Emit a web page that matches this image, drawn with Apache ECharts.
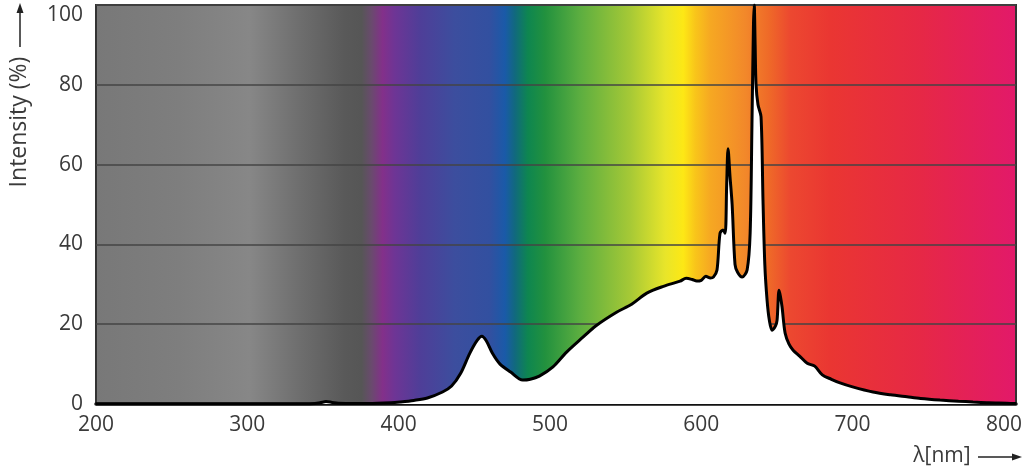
<!DOCTYPE html>
<html>
<head>
<meta charset="utf-8">
<title>Spectrum</title>
<style>
    html, body { margin: 0; padding: 0; background: #fff; }
    #spectrum-chart { width: 1024px; height: 469px; }
</style>
</head>
<body>
<div id="spectrum-chart"></div>
<script src="https://cdn.jsdelivr.net/npm/echarts@6/dist/echarts.min.js"></script>
<script>
    // wavelengths (nm) and relative intensity (%)
    var wavelengths = [200, 300, 340, 348, 352, 356, 360, 370, 380, 395, 401, 410, 419, 429, 435, 441, 447, 452, 455, 458, 462, 467, 474, 482, 487, 493, 502, 511, 522, 530, 544, 554, 564, 575, 586, 590, 594, 597, 600, 603, 606, 608, 610.4, 612.4, 614.4, 615.8, 616.8, 617.7, 619, 620.4, 622.3, 624, 627, 630.3, 632.3, 633.5, 634.5, 635, 635.6, 636.2, 637.5, 639.5, 640.8, 642, 643.5, 645, 646.8, 649, 650.1, 651.4, 652.3, 653.4, 655.4, 658, 660.7, 665, 670, 675, 680, 686, 691.7, 700, 713.5, 725, 736, 745, 757.8, 770, 779.6, 790, 802, 808];
    var intensity = [0, 0, 0, 0.3, 0.6, 0.4, 0.2, 0.1, 0.1, 0.3, 0.5, 0.9, 1.5, 3, 4.5, 7.7, 12.7, 16, 17, 15.8, 12.7, 10, 8, 6, 6.2, 7, 9.3, 13, 16.8, 19.5, 23, 25, 27.8, 29.5, 30.8, 31.5, 31.2, 30.8, 31, 32, 31.6, 31.8, 33.6, 42.8, 43.6, 42.8, 55, 64, 57, 50, 35, 33, 31.8, 33.6, 42.8, 70, 95, 100, 90, 80, 75, 72, 51, 35, 26, 21, 18.5, 19.5, 21, 28.5, 27, 24.3, 17.8, 15, 13.5, 12, 10.2, 9.5, 7.3, 6.2, 5.3, 4.3, 3, 2.3, 1.8, 1.4, 1, 0.7, 0.5, 0.3, 0.2, 0.1];
    var yTicks = [0, 20, 40, 60, 80, 100];
    var xTicks = [200, 300, 400, 500, 600, 700, 800];

    var X_MIN = 200, X_MAX = 808;
    var GRID_L = 96, GRID_R = 1016;

    // background colour bands, given as pixel x across the plot
    var bands = [
        [96, '#787878'], [180, '#7e7e7e'], [250, '#878787'], [300, '#6e6e6e'],
        [345, '#595959'], [362, '#565656'], [372, '#6a4a6e'], [383, '#83308a'],
        [395, '#6e3595'], [420, '#4f3e98'], [455, '#3c4e9e'], [490, '#3250a0'],
        [505, '#1a5aa8'], [515, '#11697e'], [528, '#0e8650'], [545, '#22913e'],
        [580, '#5cae40'], [630, '#a6c936'], [665, '#e8e52a'], [683, '#fde815'],
        [695, '#f9c51a'], [710, '#f6a822'], [745, '#f2882a'], [768, '#ef6a28'],
        [790, '#ec4830'], [830, '#ea3632'], [920, '#e62846'], [1016, '#e2196a']
    ];
    var stops = bands.map(function (b) {
        return {offset: (b[0] - GRID_L) / (GRID_R - GRID_L), color: b[1]};
    });

    var points = wavelengths.map(function (w, i) { return [w, intensity[i]]; });
    var font = '"Open Sans", "DejaVu Sans", sans-serif';

    var myChart = echarts.init(document.getElementById('spectrum-chart'));
    var option = {
        animation: false,
        grid: {
            left: GRID_L, right: 1024 - GRID_R, top: 5, bottom: 65,
            outerBoundsMode: 'none',
            containLabel: false,
            show: true,
            borderColor: '#333',
            borderWidth: 2,
            backgroundColor: new echarts.graphic.LinearGradient(0, 0, 1, 0, stops)
        },
        xAxis: {
            type: 'value',
            min: X_MIN, max: X_MAX, interval: 100,
            axisLine: {show: true, lineStyle: {color: '#111', width: 3.5}},
            axisTick: {show: false},
            splitLine: {show: false},
            axisLabel: {
                color: '#3a3a3a', fontSize: 21, fontFamily: font, margin: 11,
                showMaxLabel: false,
                formatter: function (v) { return xTicks.indexOf(v) >= 0 ? v : ''; }
            }
        },
        yAxis: {
            type: 'value',
            min: 0, max: 100, interval: 20,
            axisLine: {show: false},
            axisTick: {show: false},
            splitLine: {show: true, lineStyle: {color: '#444', width: 1.5}},
            axisLabel: {
                color: '#3a3a3a', fontSize: 21, fontFamily: font, margin: 13,
                formatter: function (v) {
                    if (yTicks.indexOf(v) < 0) return '';
                    // top label sits lower so it stays inside the picture
                    return v === 100 ? '{top|' + v + '}' : String(v);
                },
                rich: {
                    top: {color: '#3a3a3a', fontSize: 21, fontFamily: font, padding: [20, 0, 0, 0]}
                }
            }
        },
        series: [{
            type: 'line',
            data: points,
            showSymbol: false,
            smooth: 0.3,
            lineStyle: {color: '#000', width: 3},
            areaStyle: {color: '#fff', opacity: 1}
        }],
        graphic: [
            {
                type: 'text', x: 19, y: 122, rotation: Math.PI / 2,
                style: {text: 'Intensity (%)', font: '23px ' + font, fill: '#3a3a3a',
                    textAlign: 'center', textVerticalAlign: 'middle'}
            },
            {type: 'line', shape: {x1: 20, y1: 47, x2: 20, y2: 12}, style: {stroke: '#222', lineWidth: 1.5}},
            {type: 'polygon', shape: {points: [[20, 3], [16.5, 13], [23.5, 13]]}, style: {fill: '#222'}},
            {
                type: 'text', x: 942, y: 456,
                style: {text: 'λ[nm]', font: '21px ' + font, fill: '#3a3a3a',
                    textAlign: 'center', textVerticalAlign: 'middle'}
            },
            {type: 'line', shape: {x1: 978, y1: 457, x2: 1012, y2: 457}, style: {stroke: '#222', lineWidth: 1.5}},
            {type: 'polygon', shape: {points: [[1022, 457], [1012, 453.5], [1012, 460.5]]}, style: {fill: '#222'}}
        ]
    };
    myChart.setOption(option);
</script>
</body>
</html>
